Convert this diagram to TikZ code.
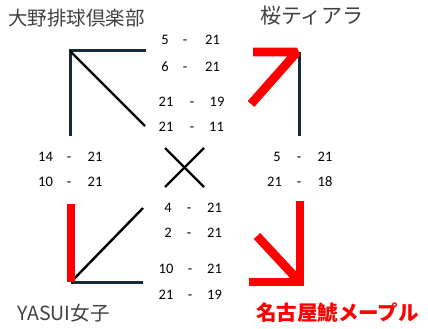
\documentclass[tikz,border=0pt]{standalone}
\usepackage{fontspec}
\setmainfont{Carlito}
\newfontfamily\jpfont{Noto Sans CJK JP}
\definecolor{darkline}{RGB}{24,42,56}
\definecolor{titlegray}{RGB}{64,64,64}
\definecolor{winred}{RGB}{255,0,0}
\tikzset{
  num/.style={inner sep=0pt, anchor=base, font=\fontsize{14.5}{16}\selectfont, text=black},
  title/.style={inner sep=0pt, font=\jpfont\fontsize{19.5}{22}\selectfont, text=titlegray},
  wintitle/.style={inner sep=0pt, font=\jpfont\bfseries\fontsize{20.5}{22}\selectfont, text=winred},
  darkln/.style={draw=darkline, line width=3pt},
  blackln/.style={draw=black, line width=2.4pt},
  redln/.style={draw=winred, line width=8.8pt, line join=bevel},
}
\newcommand{\scoreline}[8]{%
  \node[num] (#1a) at (#2,#8+4.6) {#5};
  \node[num] (#1d) at (#3,#8+4.6) {-};
  \node[num] (#1b) at (#4,#8+4.6) {#6#7};
}
\begin{document}
\begin{tikzpicture}[x=1pt,y=-1pt]
\useasboundingbox (0,0) rectangle (428,329);
% titles
\node[title, anchor=west] (t1) at (8,18) {大野排球倶楽部};
\node[title, anchor=west, font=\jpfont\fontsize{21}{22}\selectfont] (t2) at (260,16) {桜ティアラ};
\node[title, anchor=west] (t3) at (17,313) {YASUI女子};
\node[wintitle, anchor=west] (t4) at (256,313) {名古屋鯱メープル};
% coordinates
\coordinate (tlc) at (70,51);
\coordinate (tlb) at (70,136);
\coordinate (tlr) at (146,51);
\coordinate (tld) at (145,126);
\coordinate (trc) at (297,52);
\coordinate (trl) at (253,52);
\coordinate (trd) at (251,104);
\coordinate (trt) at (299,52);
\coordinate (trb) at (299,136);
\coordinate (blt) at (71,204);
\coordinate (blc) at (71,282);
\coordinate (blr) at (143,282);
\coordinate (bld) at (143,208);
\coordinate (brt) at (300,201);
\coordinate (brb) at (300,286);
\coordinate (brl) at (249,282);
\coordinate (brr) at (300,282);
\coordinate (brd) at (257,236);
\coordinate (brc) at (297,279);
\coordinate (x1) at (165,148);
\coordinate (x2) at (204,187);
\coordinate (x3) at (204,148);
\coordinate (x4) at (165,187);
% top-left bracket
\draw[darkln] (tlb) -- (tlc) -- (tlr);
\draw[blackln] (tlc) -- (tld);
% top-right bracket
\draw[darkln] (trt) -- (trb);
\draw[redln] (trl) -- (trc) -- (trd);
% bottom-left bracket
\draw[darkln] (blc) -- (blr);
\draw[blackln] (blc) -- (bld);
\draw[draw=winred, line width=8.4pt] (blt) -- (blc);
% bottom-right bracket
\draw[draw=winred, line width=8.4pt] (brt) -- (brb);
\draw[draw=winred, line width=8.8pt] (brl) -- (brr);
\draw[draw=winred, line width=8.8pt] (brd) -- (brc);
% center X
\draw[blackln] (x1) -- (x2);
\draw[blackln] (x3) -- (x4);
% scores
\scoreline{s1}{165}{185}{212.5}{5}{2}{1}{40}
\scoreline{s2}{165}{185}{212.5}{6}{2}{1}{67}
\scoreline{s3}{166}{192}{217}{21}{1}{9}{102}
\scoreline{s4}{166}{192}{216.5}{21}{1}{1}{127}
\scoreline{s5}{168}{189}{214.5}{4}{2}{1}{208}
\scoreline{s6}{168}{189}{214.5}{2}{2}{1}{233}
\scoreline{s7}{166}{190}{214.5}{10}{2}{1}{269}
\scoreline{s8}{166}{190}{214.5}{21}{1}{9}{295}
\scoreline{s9}{45.5}{69}{95}{14}{2}{1}{157}
\scoreline{s10}{45.5}{69}{95}{10}{2}{1}{182}
\scoreline{s11}{277}{299}{325}{5}{2}{1}{157}
\scoreline{s12}{274.5}{299}{325}{21}{1}{8}{182}
\end{tikzpicture}
\end{document}
